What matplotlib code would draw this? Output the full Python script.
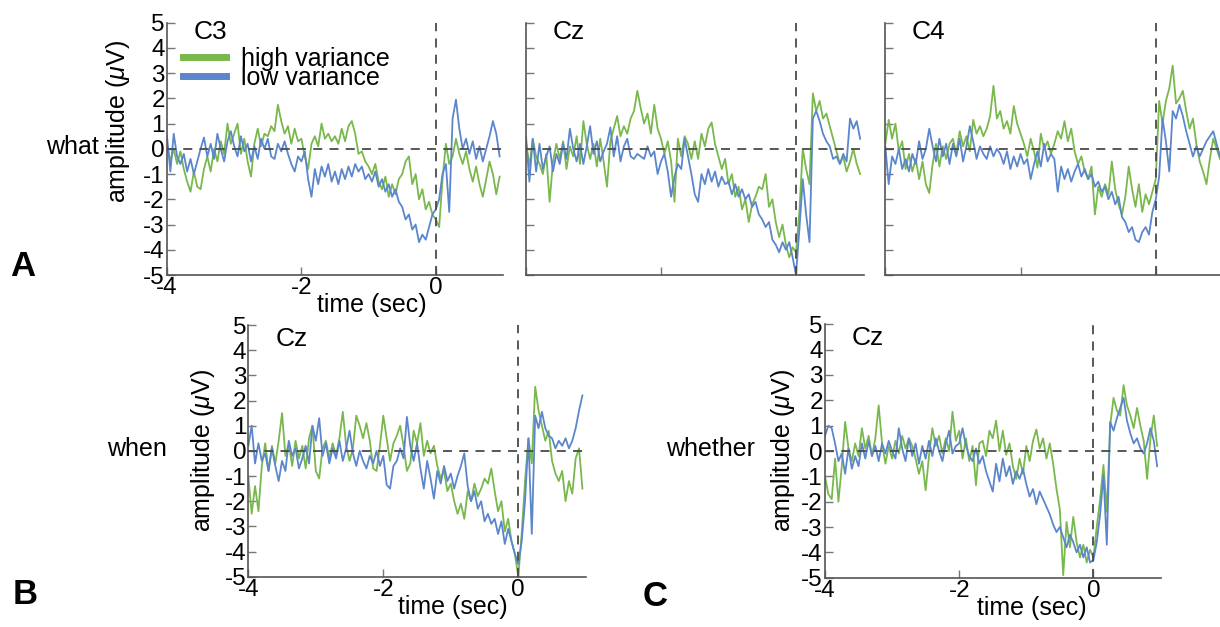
import matplotlib
matplotlib.use('Agg')
import matplotlib.pyplot as plt
from matplotlib.lines import Line2D
import numpy as np

plt.rcParams['font.family'] = ['Liberation Sans', 'DejaVu Sans']
plt.rcParams['mathtext.fontset'] = 'custom'
plt.rcParams['mathtext.it'] = 'Liberation Sans:italic'
plt.rcParams['mathtext.rm'] = 'Liberation Sans'
plt.rcParams['axes.unicode_minus'] = False

green = '#79b84c'
blue = '#5b86cc'
dash_col = '#4a4a4a'

# sample times (sec), one value every 50 ms
time = np.arange(100) * 0.05 - 4.0

# ---- panel A, C3 ----
c3_high = [0.2, -0.5, 0.0, -0.6, -0.1, -0.8, -1.3, -1.7, -0.9, -1.5,
           -1.6, -0.8, -0.3, -0.9, 0.0, -0.5, 0.3, -0.2, 1.0, 0.2,
           0.6, 1.0, -0.2, 0.4, -0.5, -1.1, 0.2, 0.8, 0.1, 0.6,
           0.5, 0.9, 0.7, 1.75, 1.1, 0.6, 0.9, 0.2, 0.8, 0.3,
           0.4, -0.3, -0.8, 0.2, 0.5, 0.1, 1.0, 0.4, 0.6, 0.3,
           0.5, 0.2, 0.8, 0.3, 0.9, 1.1, 0.6, -0.2, -0.1, -0.5,
           -0.7, -1.0, -0.6, -1.3, -1.6, -1.1, -1.9, -1.4, -1.8, -1.2,
           -1.0, -0.5, -0.3, -1.4, -1.0, -2.0, -1.6, -2.4, -2.1, -2.6,
           -2.8, -3.1, -1.2, 0.2, -0.6, -0.3, 0.4, -0.2, -0.6, -0.1,
           -0.8, -1.3, -0.7, -1.4, -1.9, -1.2, -0.5, -1.0, -1.8, -1.1]
c3_low = [0.5, -0.9, 0.6, -0.3, -0.6, -0.2, -0.9, -0.4, -1.0, -0.5,
          0.0, 0.45, -0.3, 0.2, -0.4, 0.6, 0.0, -0.5, 0.3, 0.7,
          0.1, -0.3, 0.5, -0.1, 0.2, -0.5, 0.1, -0.4, 0.4, 0.0,
          0.4, -0.3, -0.4, 0.2, -0.1, 0.3, -0.2, -0.6, -0.9, -0.3,
          -0.5, -0.1, -1.2, -1.9, -0.8, -1.4, -0.7, -1.1, -0.6, -1.3,
          -0.9, -1.4, -0.8, -1.2, -0.7, -1.1, -0.6, -0.9, -0.7, -1.2,
          -1.0, -1.3, -0.9, -1.5, -1.2, -1.7, -1.4, -1.9, -1.6, -2.1,
          -2.3, -2.8, -2.6, -3.2, -3.0, -3.7, -3.4, -3.6, -3.1, -2.6,
          -2.4, -2.0, -1.0, -0.6, -2.5, 1.2, 1.95, 0.8, 0.0, 0.4,
          -0.2, 0.3, -0.4, 0.1, -0.5, 0.0, 0.5, 1.1, 0.6, -0.3]

# ---- panel A, Cz ----
cza_high = [0.3, -0.7, 0.4, -0.3, -0.6, -1.0, -0.2, -2.1, -0.5, 0.2,
            -0.4, 0.3, -0.8, 0.1, -0.3, 0.5, -0.6, 1.1, 0.2, -0.4,
            0.2, -0.7, 0.4, -0.5, -1.5, 0.3, 0.8, 1.3, 0.5, 0.9,
            0.6, 1.2, 1.5, 2.3, 1.6, 1.0, 1.4, 0.6, 1.75, 0.8,
            0.4, -0.2, 0.3, -0.5, -2.1, 0.4, -0.3, 0.5, 0.2, -0.4,
            0.3, -0.4, 0.6, 0.1, 0.8, 1.05, 0.2, -0.3, -0.8, -0.4,
            -1.4, -1.0, -1.9, -1.5, -2.4, -2.0, -2.9, -2.2, -1.9, -1.5,
            -1.6, -1.0, -2.3, -2.0, -2.9, -3.5, -3.0, -3.8, -4.3, -3.9,
            -4.1, -2.5, 0.0, -0.8, -1.4, 2.2, 1.5, 1.9, 1.2, 1.4,
            0.9, 0.4, -0.1, -0.6, -0.3, -0.9, -0.5, 0.0, -0.6, -1.0]
cza_low = [0.5, -1.3, 0.4, -0.9, 0.2, -0.8, -0.3, 0.1, -0.9, -0.2,
           -0.6, 0.2, -0.4, 0.8, 0.0, -0.5, 0.2, -0.6, 0.1, 0.9,
           -0.2, 0.3, -0.5, -0.1, 0.2, 0.85, -0.3, 0.5, -0.5, 0.1,
           0.4, -0.3, -0.4, -0.2, -0.3, -0.4, 0.1, -0.3, -0.1, -1.0,
           -0.5, -0.2, -0.9, -1.9, -1.1, -0.6, -0.8, 0.4, -0.3, -1.0,
           -1.8, -2.1, -1.0, -1.4, -0.8, -1.3, -0.9, -1.5, -1.1, -1.4,
           -1.3, -1.8, -1.4, -1.9, -1.6, -2.0, -1.8, -2.3, -2.1, -2.6,
           -2.8, -3.1, -2.9, -3.6, -3.8, -4.1, -3.7, -4.0, -3.7, -4.3,
           -5.0, -3.2, -1.2, -2.6, -3.7, 1.2, 1.5, 1.1, 0.6, 0.3,
           0.1, -0.4, -0.3, -0.6, -0.2, -0.5, 1.2, 0.8, 1.1, 0.4]

# ---- panel A, C4 ----
c4_high = [0.2, 1.15, 0.4, 1.0, -0.1, 0.3, -0.8, -0.2, -0.9, -0.4,
           -1.2, -0.5, -1.4, -1.75, -0.6, 0.2, -0.7, 0.1, -0.4, 0.2,
           0.4, -0.2, 0.7, 0.1, 0.5, -0.1, 1.15, 0.6, 0.9, 0.5,
           0.8, 1.3, 2.5, 1.2, 1.5, 0.8, 1.1, 0.6, 1.7, 1.0,
           0.6, 0.2, -0.3, 0.4, -0.1, -0.75, 0.6, 0.0, 0.3, -0.2,
           0.2, 0.7, 0.4, 1.1, 0.3, 0.8, -0.1, -0.6, -0.3, -0.9,
           -1.2, -0.7, -2.6, -1.5, -1.9, -1.4, -1.8, -0.5, -1.6, -2.2,
           -2.6, -1.9, -0.7, -1.6, -2.3, -1.4, -2.5, -1.8, -2.2, -1.7,
           -1.2, 1.9, 1.0, 1.9, 2.4, 3.3, 1.8, 2.0, 2.3, 1.5,
           0.8, 1.2, 0.2, -0.5, -0.9, -1.4, -0.4, 0.4, 0.0, -0.4]
c4_low = [0.1, -1.4, -0.3, -0.6, 0.0, -0.8, -0.4, -0.9, -0.2, -0.6,
          0.3, -0.4, 0.0, 0.8, 0.1, -0.5, 0.4, -0.3, 0.2, -0.6,
          0.2, -0.3, 0.4, -0.5, 0.1, 0.9, 0.3, -0.4, 0.1, -0.2,
          -0.4, 0.1, -0.3, 0.0, -0.2, -0.6, -0.1, -0.8, -0.3, -0.7,
          -0.2, -0.6, -0.4, -1.2, -0.6, -0.1, -0.7, 0.2, -0.5, -0.2,
          -0.4, -1.7, -0.7, -1.2, -0.8, -1.3, -0.9, -0.6, -1.1, -0.8,
          -1.2, -1.0, -1.5, -1.3, -1.7, -1.5, -2.0, -1.7, -2.2, -1.9,
          -2.7, -2.9, -3.3, -3.1, -3.6, -3.7, -3.3, -3.1, -3.4, -2.5,
          -2.0, -1.1, 1.2, 0.3, -0.9, 1.5, 1.2, 1.75, 1.3, 0.7,
          0.2, -0.3, 0.1, -0.3, 0.0, 0.3, 0.5, 0.7, 0.2, -0.3]

# ---- panel B, Cz (when) ----
czb_high = [-1.0, -2.5, -1.4, -2.4, -0.6, 0.3, -0.8, 0.2, -0.5, 0.4,
            1.5, -0.2, 0.3, -0.6, 0.4, -0.3, 0.2, -0.7, 0.5, 1.0,
            -0.8, -1.1, 0.1, 0.4, -0.3, 0.3, -0.2, 0.5, 1.55, 0.2,
            -0.4, 0.1, 1.4, 1.0, 0.5, 1.1, 0.4, -0.7, -0.8, 0.2,
            1.4, 0.5, -0.4, 0.3, 0.6, 1.0, 0.2, -0.8, -0.5, 0.8,
            0.3, 1.1, -0.2, 0.4, -0.1, 0.2, -0.6, -1.1, -0.8, -1.6,
            -1.3, -2.0, -2.5, -2.1, -2.7, -1.6, -2.0, -1.3, -1.8, -1.5,
            -1.1, -1.3, -0.7, -1.6, -2.4, -2.0, -3.2, -2.7, -3.6, -4.1,
            -5.0, -3.3, -1.2, 0.5, -0.5, 2.55, 1.6, 1.0, 0.4, 0.8,
            -0.4, -0.9, -1.2, -0.8, -2.0, -1.2, -1.7, -0.3, 0.1, -1.5]
czb_low = [0.2, 1.0, -0.5, 0.3, -0.4, -0.1, -0.8, 0.1, -0.6, -1.2,
           -0.4, -0.8, 0.4, -0.2, 0.1, -0.7, -0.3, 0.2, -0.5, 1.0,
           0.4, 1.3, -0.2, 0.3, -0.5, 0.1, -0.3, 0.4, -0.4, 0.1,
           0.8, -0.1, -0.6, 0.0, -0.4, -0.7, -0.2, -0.5, 0.0, -0.6,
           -0.2, -1.35, -1.5, -0.6, -0.4, 0.1, -0.3, 1.35, 0.2, -0.4,
           0.3, -0.7, -1.5, -0.4, -1.1, -1.9, -0.8, -1.3, -0.6, -1.2,
           -0.9, -1.5, -1.0, -0.6, -0.1, -1.4, -2.0, -1.6, -2.3, -2.0,
           -2.8, -2.5, -2.9, -2.7, -3.3, -2.8, -3.7, -3.1, -3.6, -4.1,
           -4.5, -3.6, -2.0, 0.5, -3.3, 1.4, 0.9, 1.55, 0.9, 0.6,
           0.5, 0.1, 0.4, 0.2, 0.5, 0.1, 0.4, 0.9, 1.6, 2.2]

# ---- panel C, Cz (whether) ----
czc_high = [-1.0, -1.7, -1.9, -0.3, -2.0, -0.6, 1.15, 0.1, -0.4, 0.3,
            -0.2, 0.9, 0.1, 0.6, -0.2, 0.5, 1.8, 0.3, -0.5, 0.2,
            -0.3, 0.4, -0.1, 0.6, 0.1, 0.5, 0.2, -0.3, -0.9, -0.4,
            -1.55, -0.2, 0.9, 0.2, 0.6, -0.1, 0.5, 0.0, 1.55, 0.4,
            0.8, -0.3, 0.5, -0.4, 0.2, -1.35, 0.3, 0.4, -0.2, 0.8,
            0.5, 1.2, 0.0, 0.8, -0.15, 0.3, -0.6, -1.1, -0.3, -0.9,
            0.2, -0.4, 0.4, 0.85, 0.1, 0.5, -0.3, 0.3, -0.5, -1.5,
            -2.3, -4.9, -2.8, -3.8, -2.6, -3.6, -4.2, -3.7, -4.4, -3.9,
            -4.2, -3.0, -1.9, -0.55, -2.4, 1.0, 2.1, 1.6, 1.4, 2.6,
            1.8, 1.4, 0.9, 1.7, 1.0, 0.4, -1.1, 0.5, 1.4, 0.2]
czc_low = [0.6, 1.0, 0.9, 0.3, -0.4, -0.1, -0.9, 0.1, -0.7, -0.2,
           -0.6, 0.3, -0.3, 0.4, -0.2, 0.2, -0.4, 0.3, -0.1, 0.4,
           0.0, -0.3, 0.9, 0.1, -0.4, 0.5, -0.2, 0.3, -0.5, 0.2,
           -0.3, 0.4, -0.2, 0.5, 0.0, -0.4, 0.3, 0.8, -0.1, 0.2,
           0.3, 0.9, 0.2, -0.2, -0.4, 0.1, -0.5, -0.2, -0.8, -1.2,
           -1.6, -0.5, -1.2, -0.3, -1.0, -0.6, -1.3, -0.8, -1.1, -0.7,
           -1.3, -1.8, -1.5, -2.1, -1.6, -1.9, -2.2, -2.5, -2.9, -3.2,
           -3.0, -3.4, -3.8, -3.3, -3.6, -4.0, -3.7, -4.2, -3.8, -4.4,
           -4.3, -3.6, -2.5, -0.95, -3.7, 1.15, 0.8, 1.3, 1.7, 2.1,
           1.2, 0.7, 0.3, 0.5, 0.1, -0.1, 0.3, 0.9, 0.4, -0.6]

fig = plt.figure(figsize=(12.2, 6.27), dpi=100)
fig.patch.set_facecolor('white')

W, H = 1220.0, 627.0
FS = 18


def make_axes(left, right, top, bottom, xmax):
    ax = fig.add_axes([left / W, 1 - bottom / H, (right - left) / W, (bottom - top) / H])
    ax.set_xlim(-4, xmax)
    ax.set_ylim(-5, 5)
    for s in ['top', 'right']:
        ax.spines[s].set_visible(False)
    for s in ['left', 'bottom']:
        ax.spines[s].set_color('#555555')
        ax.spines[s].set_linewidth(1.2)
    ax.set_yticks(range(-5, 6))
    ax.set_xticks([-4, -2, 0])
    ax.tick_params(direction='in', length=6, width=1, color='#777777',
                   labelsize=17.5, pad=1.5)
    ax.axhline(0, color=dash_col, lw=1.3, ls=(0, (5, 4)), zorder=3)
    ax.axvline(0, color=dash_col, lw=1.3, ls=(0, (5, 4)), zorder=3)
    return ax


def draw(ax, high, low, name, name_y=0.965):
    ax.plot(time, high, color=green, lw=1.3, zorder=2)
    ax.plot(time, low, color=blue, lw=1.3, zorder=2)
    ax.text(0.08, name_y, name, transform=ax.transAxes, fontsize=19,
            ha='left', va='center')


ylab = r'amplitude ($\mu$V)'

# row A
ax_c3 = make_axes(167, 503, 22.7, 275, 1.0)
draw(ax_c3, c3_high, c3_low, 'C3')
ax_c3.text(-0.145, 0.61, ylab, transform=ax_c3.transAxes, rotation=90,
           fontsize=FS, ha='center', va='center')
ax_c3.text(0.61, -0.12, 'time (sec)', transform=ax_c3.transAxes,
           fontsize=FS, ha='center', va='center')
handles = [Line2D([], [], color=green, lw=5), Line2D([], [], color=blue, lw=5)]
ax_c3.legend(handles, ['high variance', 'low variance'], loc='upper left',
             bbox_to_anchor=(0.048, 0.905), frameon=False, fontsize=FS,
             labelspacing=-0.2, handlelength=1.7, handletextpad=0.6,
             borderpad=0, borderaxespad=0)

ax_cz = make_axes(526, 863.5, 22.7, 275, 1.0)
draw(ax_cz, cza_high, cza_low, 'Cz')
ax_cz.set_yticklabels([])
ax_cz.set_xticklabels([])

ax_c4 = make_axes(885.3, 1220, 22.7, 275, 0.95)
draw(ax_c4, c4_high, c4_low, 'C4')
ax_c4.set_yticklabels([])
ax_c4.set_xticklabels([])

# row B / C
ax_b = make_axes(248.3, 585.8, 325, 576.7, 1.0)
draw(ax_b, czb_high, czb_low, 'Cz', 0.945)
ax_b.text(-0.135, 0.5, ylab, transform=ax_b.transAxes, rotation=90,
          fontsize=FS, ha='center', va='center')
ax_b.text(0.605, -0.12, 'time (sec)', transform=ax_b.transAxes,
          fontsize=FS, ha='center', va='center')

ax_cc = make_axes(825, 1160.5, 324.3, 577.7, 1.0)
draw(ax_cc, czc_high, czc_low, 'Cz', 0.945)
ax_cc.text(-0.125, 0.5, ylab, transform=ax_cc.transAxes, rotation=90,
           fontsize=FS, ha='center', va='center')
ax_cc.text(0.615, -0.12, 'time (sec)', transform=ax_cc.transAxes,
           fontsize=FS, ha='center', va='center')

# row labels and panel letters
fig.text(99 / W, 1 - 147 / H, 'what', fontsize=FS, ha='right', va='center')
fig.text(137 / W, 1 - 449 / H, 'when', fontsize=FS, ha='center', va='center')
fig.text(711 / W, 1 - 449 / H, 'whether', fontsize=FS, ha='center', va='center')
fig.text(23 / W, 1 - 266 / H, 'A', fontsize=25, fontweight='bold', ha='center', va='center')
fig.text(25 / W, 1 - 595 / H, 'B', fontsize=25, fontweight='bold', ha='center', va='center')
fig.text(655 / W, 1 - 597 / H, 'C', fontsize=25, fontweight='bold', ha='center', va='center')

plt.savefig('out.png', dpi=100, facecolor='white')
plt.close()
